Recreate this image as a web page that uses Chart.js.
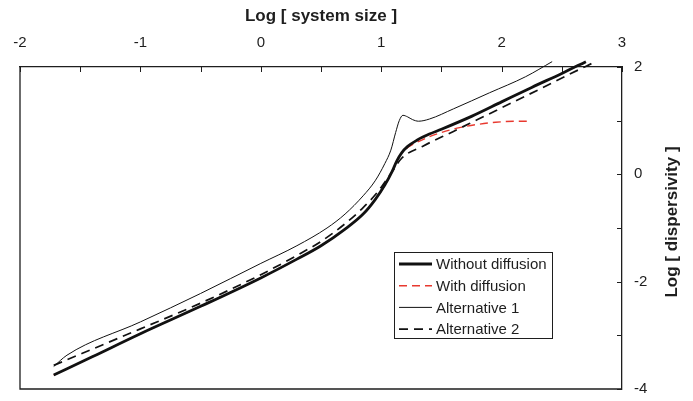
<!DOCTYPE html>
<html>
<head>
<meta charset="utf-8">
<script src="https://cdn.jsdelivr.net/npm/chart.js@4.4.1/dist/chart.umd.min.js"></script>
<style>
  html, body { margin: 0; padding: 0; background: #fff; }
</style>
</head>
<body>
<canvas id="chart" width="693" height="401"></canvas>
<script>
// values (log10 units)
const noDiffX = [-1.72, -1.4, -1.0, -0.5, 0.0, 0.3, 0.5, 0.7, 0.85, 0.95, 1.03, 1.09, 1.13, 1.17, 1.22, 1.3, 1.4, 1.5, 1.75, 2.0, 2.25, 2.5, 2.7];
const noDiffY = [-3.74, -3.40, -2.97, -2.46, -1.93, -1.58, -1.33, -1.02, -0.74, -0.47, -0.20, 0.05, 0.25, 0.40, 0.52, 0.64, 0.75, 0.84, 1.08, 1.35, 1.62, 1.88, 2.1];

const diffX = [-1.72, -1.4, -1.0, -0.5, 0.0, 0.3, 0.5, 0.7, 0.85, 0.95, 1.03, 1.09, 1.13, 1.17, 1.22, 1.3, 1.4, 1.5, 1.65, 1.8, 1.95, 2.1, 2.25];
const diffY = [-3.74, -3.40, -2.97, -2.46, -1.93, -1.58, -1.33, -1.02, -0.74, -0.47, -0.20, 0.05, 0.25, 0.40, 0.50, 0.60, 0.70, 0.78, 0.87, 0.93, 0.97, 0.99, 0.99];

const alt1X = [-1.72, -1.61, -1.0, -0.5, 0.0, 0.3, 0.55, 0.7, 0.85, 0.95, 1.03, 1.08, 1.12, 1.15, 1.18, 1.22, 1.26, 1.31, 1.4, 1.6, 1.9, 2.2, 2.42];
const alt1Y = [-3.58, -3.37, -2.75, -2.22, -1.66, -1.33, -1.00, -0.74, -0.40, -0.12, 0.20, 0.45, 0.78, 1.00, 1.10, 1.07, 1.02, 0.99, 1.03, 1.22, 1.52, 1.82, 2.1];

const alt2X = [-1.72, -1.0, -0.5, 0.0, 0.3, 0.5, 0.7, 0.85, 0.97, 1.05, 1.1, 1.17, 1.35, 1.6, 1.8, 2.0, 2.3, 2.55, 2.78];
const alt2Y = [-3.56, -2.88, -2.40, -1.87, -1.51, -1.25, -0.92, -0.62, -0.33, -0.08, 0.08, 0.30, 0.53, 0.80, 1.02, 1.24, 1.57, 1.85, 2.1];

const xTitle = 'Log [ system size ]';
const yTitle = 'Log [ dispersivity ]';
const FONT = '"Liberation Sans", Arial, sans-serif';
const INK = '#1e1e1e';

function pts(xs, ys) {
    return xs.map((x, i) => ({ x: x, y: ys[i] }));
}

// inward ticks, left/bottom frame, rotated right-hand title and the boxed legend
const framePlugin = {
    id: 'frame',
    afterDraw(chart) {
        const ctx = chart.ctx;
        const area = chart.chartArea;
        const xs = chart.scales.x;
        const ys = chart.scales.y;
        ctx.save();
        ctx.strokeStyle = INK;
        ctx.lineWidth = 1.3;
        ctx.beginPath();
        ctx.moveTo(area.left, area.top);
        ctx.lineTo(area.left, area.bottom);
        ctx.lineTo(area.right, area.bottom);
        ctx.stroke();

        ctx.lineWidth = 1;
        ctx.beginPath();
        for (let v = -2; v <= 3.001; v += 0.5) {
            const px = Math.round(xs.getPixelForValue(v)) + 0.5;
            ctx.moveTo(px, area.top);
            ctx.lineTo(px, area.top + 5);
        }
        for (let v = -4; v <= 2.001; v += 1) {
            const py = Math.round(ys.getPixelForValue(v)) + 0.5;
            ctx.moveTo(area.right, py);
            ctx.lineTo(area.right - 5, py);
        }
        ctx.stroke();

        // y axis title, reading bottom to top
        ctx.fillStyle = INK;
        ctx.font = 'bold 17px ' + FONT;
        ctx.textAlign = 'center';
        ctx.textBaseline = 'middle';
        ctx.translate(672, 222);
        ctx.rotate(-Math.PI / 2);
        ctx.fillText(yTitle, 0, 0);
        ctx.setTransform(1, 0, 0, 1, 0, 0);

        // legend
        const lx = 394, ly = 252, lw = 158, lh = 86;
        ctx.fillStyle = '#fff';
        ctx.fillRect(lx, ly, lw, lh);
        ctx.strokeStyle = INK;
        ctx.lineWidth = 1;
        ctx.strokeRect(lx + 0.5, ly + 0.5, lw, lh);
        ctx.font = '15px ' + FONT;
        ctx.textAlign = 'left';
        chart.data.datasets.forEach((ds, i) => {
            const y = ly + 12 + i * 21.7;
            ctx.beginPath();
            ctx.strokeStyle = ds.borderColor;
            ctx.lineWidth = ds.borderWidth;
            ctx.setLineDash(ds.borderDash || []);
            ctx.moveTo(lx + 5, y);
            ctx.lineTo(lx + 38, y);
            ctx.stroke();
            ctx.setLineDash([]);
            ctx.fillStyle = INK;
            ctx.fillText(ds.label, lx + 42, y + 1);
        });
        ctx.restore();
    }
};

new Chart(document.getElementById('chart').getContext('2d'), {
    type: 'line',
    data: {
        datasets: [
            {
                label: 'Without diffusion',
                data: pts(noDiffX, noDiffY),
                borderColor: '#111',
                borderWidth: 2.8
            },
            {
                label: 'With diffusion',
                data: pts(diffX, diffY),
                borderColor: '#e8392f',
                borderWidth: 1.4,
                borderDash: [8, 5]
            },
            {
                label: 'Alternative 1',
                data: pts(alt1X, alt1Y),
                borderColor: '#111',
                borderWidth: 1
            },
            {
                label: 'Alternative 2',
                data: pts(alt2X, alt2Y),
                borderColor: '#111',
                borderWidth: 1.7,
                borderDash: [9, 6]
            }
        ]
    },
    options: {
        responsive: false,
        animation: false,
        devicePixelRatio: 1,
        layout: { padding: { left: 20, right: 0, top: 0, bottom: 12 } },
        elements: {
            point: { radius: 0 },
            line: { cubicInterpolationMode: 'monotone', fill: false }
        },
        datasets: { line: { clip: 8 } },
        plugins: {
            legend: { display: false },
            tooltip: { enabled: false }
        },
        scales: {
            x: {
                type: 'linear',
                position: 'top',
                min: -2,
                max: 3,
                ticks: { stepSize: 1, color: INK, font: { family: FONT, size: 15 }, padding: 15 },
                grid: { drawOnChartArea: false, drawTicks: false },
                border: { color: INK, width: 1.3 },
                title: {
                    display: true,
                    text: xTitle,
                    color: INK,
                    font: { family: FONT, size: 17, weight: 'bold' },
                    padding: { top: 6, bottom: 0 }
                },
                afterFit: s => { s.height = 67; s.paddingLeft = 0; s.paddingRight = 0; }
            },
            y: {
                type: 'linear',
                position: 'right',
                min: -4,
                max: 2,
                ticks: { stepSize: 2, color: INK, font: { family: FONT, size: 15 }, padding: 12 },
                grid: { drawOnChartArea: false, drawTicks: false },
                border: { color: INK, width: 1.3 },
                afterFit: s => { s.width = 71; s.paddingTop = 0; s.paddingBottom = 0; }
            }
        }
    },
    plugins: [framePlugin]
});
</script>
</body>
</html>
